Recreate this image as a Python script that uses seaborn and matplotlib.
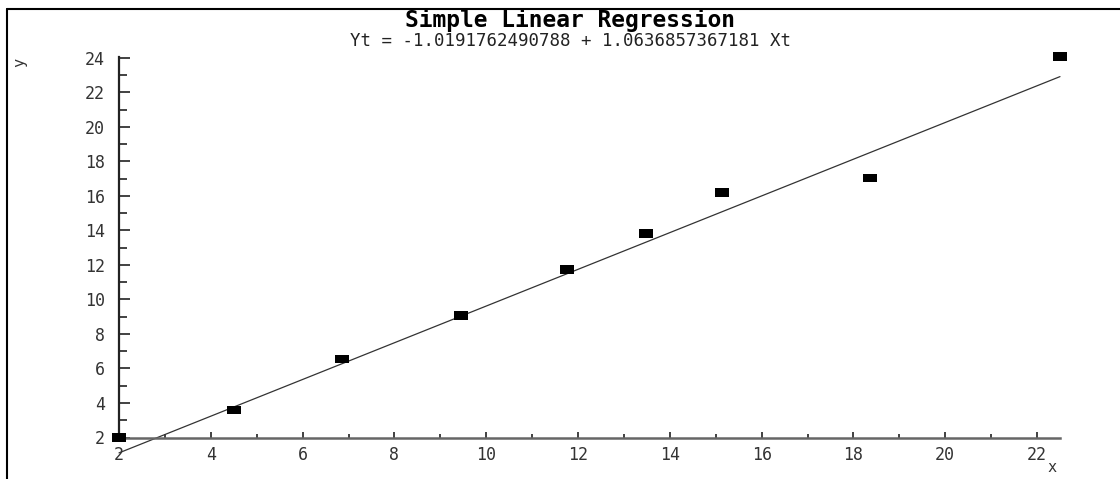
import numpy as np
import pandas as pd
import matplotlib
matplotlib.use("Agg")
import matplotlib.pyplot as plt
from matplotlib.lines import Line2D
from matplotlib.ticker import MultipleLocator
import seaborn as sns

# ---- data ----
x_vals = [2.0, 4.5, 6.86, 9.45, 11.76, 13.48, 15.14, 18.36, 22.5]
y_vals = [2.0, 3.6, 6.56, 9.06, 11.74, 13.83, 16.2, 17.03, 24.07]
intercept = -1.0191762490788
slope = 1.0636857367181
title = "Simple Linear Regression"
subtitle = "Yt = -1.0191762490788 + 1.0636857367181 Xt"
x_label = "x"
y_label = "y"

df = pd.DataFrame({"x": x_vals, "y": y_vals})
x_line = np.array([min(x_vals), max(x_vals)])
line_df = pd.DataFrame({"x": x_line, "y": intercept + slope * x_line})

sns.set_theme(style="white")
plt.rcParams["font.family"] = ["DejaVu Sans Mono", "DejaVu Sans"]

fig = plt.figure(figsize=(11.2, 4.79), dpi=100)
ax = fig.add_axes([119 / 1120, 41.5 / 479, (1060 - 119) / 1120, (437.5 - 57) / 479])

sns.lineplot(data=line_df, x="x", y="y", ax=ax, color="#333333", lw=0.9,
             clip_on=False, zorder=2)
rect = [(-1, -0.62), (1, -0.62), (1, 0.62), (-1, 0.62)]
sns.scatterplot(data=df, x="x", y="y", ax=ax, marker=rect, s=100, color="black",
                edgecolor="none", linewidth=0, clip_on=False, zorder=3)

ax.set_xlim(2, 22.5)
ax.set_ylim(2, 24.05)
ax.xaxis.set_major_locator(MultipleLocator(2))
ax.xaxis.set_minor_locator(MultipleLocator(1))
ax.yaxis.set_major_locator(MultipleLocator(2))
ax.yaxis.set_minor_locator(MultipleLocator(1))

for s in ["top", "right"]:
    ax.spines[s].set_visible(False)
ax.spines["left"].set_color("#222222")
ax.spines["left"].set_linewidth(1.6)
ax.spines["bottom"].set_color("#666666")
ax.spines["bottom"].set_linewidth(1.8)

ax.tick_params(axis="x", which="major", direction="in", length=4.5, width=1.3,
               color="#333333", pad=6, labelsize=12, labelcolor="#333333")
ax.tick_params(axis="x", which="minor", direction="in", length=3, width=1.3,
               color="#333333")
ax.tick_params(axis="y", which="major", direction="in", length=8, width=1.3,
               color="#333333", pad=10, labelsize=12, labelcolor="#333333")
ax.tick_params(axis="y", which="minor", direction="in", length=6, width=1.3,
               color="#333333")
ax.xaxis.set_ticks_position("bottom")
ax.yaxis.set_ticks_position("left")

ax.set_xlabel("")
ax.set_ylabel("")
fig.text(1052 / 1120, 1 - 468 / 479, x_label, ha="center", va="center",
         fontsize=11, color="#333333")
fig.text(20 / 1120, 1 - 62 / 479, y_label, ha="center", va="center",
         fontsize=11, color="#333333", rotation=90)

fig.text(570 / 1120, 1 - 20 / 479, title, ha="center", va="center",
         fontsize=16.5, fontweight="bold", color="black")
fig.text(570 / 1120, 1 - 41 / 479, subtitle, ha="center", va="center",
         fontsize=12.5, color="#222222")

# frame lines on left and top
fig.add_artist(Line2D([7 / 1120, 7 / 1120], [0, 1 - 9 / 479], transform=fig.transFigure,
                      color="black", lw=1.5))
fig.add_artist(Line2D([7 / 1120, 1], [1 - 9 / 479, 1 - 9 / 479], transform=fig.transFigure,
                      color="black", lw=1.5))

fig.savefig("out.png", dpi=100)
